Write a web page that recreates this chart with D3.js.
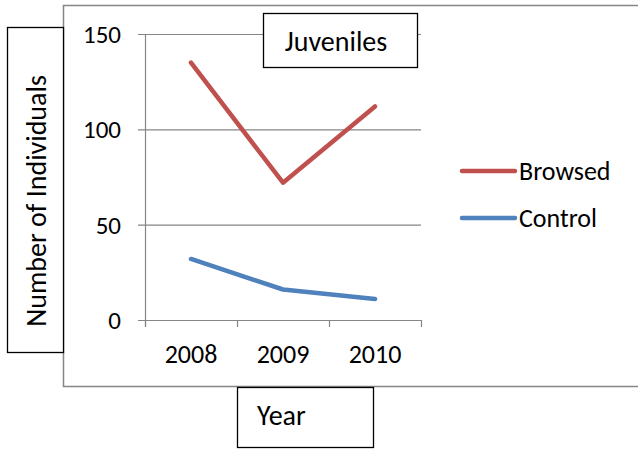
<!DOCTYPE html>
<html>
<head>
<meta charset="utf-8">
<script src="https://cdn.jsdelivr.net/npm/d3@7"></script>
<style>
  body { margin: 0; background: #fff; }
  svg { display: block; }
</style>
</head>
<body>
<script>
const WIDTH = 638;
const HEIGHT = 450;
const FONT = 'Carlito, Lato, "Open Sans", sans-serif';
const GRID = '#868686';

const years = ['2008', '2009', '2010'];
const browsed = [135, 72, 112];
const control = [32, 16, 11];
const yTicks = [0, 50, 100, 150];
const seriesNames = ['Browsed', 'Control'];
const seriesColors = ['#C0504D', '#4F81BD'];

const svg = d3.select('body').append('svg')
  .attr('width', WIDTH)
  .attr('height', HEIGHT);

// chart frame (top/left/bottom visible, right runs off the page)
svg.append('rect')
  .attr('x', 63.5).attr('y', 5.5)
  .attr('width', 640).attr('height', 381)
  .attr('fill', '#fff')
  .attr('stroke', GRID)
  .attr('stroke-width', 1.5);

const plot = { left: 145, right: 421, top: 34, bottom: 320 };

const x = d3.scaleBand()
  .domain(years)
  .range([plot.left, plot.right]);

const y = d3.scaleLinear()
  .domain([0, 150])
  .range([plot.bottom, plot.top]);

// gridlines
svg.append('g')
  .selectAll('line')
  .data(yTicks)
  .join('line')
  .attr('x1', plot.left - 7).attr('x2', plot.right)
  .attr('y1', d => y(d) + 0.5).attr('y2', d => y(d) + 0.5)
  .attr('stroke', GRID)
  .attr('stroke-width', 1.2);

// y axis line
svg.append('line')
  .attr('x1', plot.left + 0.5).attr('x2', plot.left + 0.5)
  .attr('y1', plot.top).attr('y2', plot.bottom + 7)
  .attr('stroke', GRID)
  .attr('stroke-width', 1.2);

// x ticks at band boundaries
const boundaries = years.map(d => x(d)).concat([x(years[years.length - 1]) + x.bandwidth()]);
svg.append('g')
  .selectAll('line')
  .data(boundaries)
  .join('line')
  .attr('x1', d => d + 0.5).attr('x2', d => d + 0.5)
  .attr('y1', plot.bottom).attr('y2', plot.bottom + 7)
  .attr('stroke', GRID)
  .attr('stroke-width', 1.2);

// y tick labels
svg.append('g')
  .selectAll('text')
  .data(yTicks)
  .join('text')
  .attr('x', 121)
  .attr('y', d => y(d) + 9)
  .attr('text-anchor', 'end')
  .attr('font-family', FONT)
  .attr('font-size', 25)
  .attr('fill', '#000')
  .text(d => d);

// x tick labels
svg.append('g')
  .selectAll('text')
  .data(years)
  .join('text')
  .attr('x', d => x(d) + x.bandwidth() / 2)
  .attr('y', 363)
  .attr('text-anchor', 'middle')
  .attr('font-family', FONT)
  .attr('font-size', 26)
  .attr('fill', '#000')
  .text(d => d);

// lines
const line = d3.line()
  .x((d, i) => x(years[i]) + x.bandwidth() / 2)
  .y(d => y(d));

[browsed, control].forEach((vals, i) => {
  svg.append('path')
    .datum(vals)
    .attr('d', line)
    .attr('fill', 'none')
    .attr('stroke', seriesColors[i])
    .attr('stroke-width', 4.5)
    .attr('stroke-linecap', 'round')
    .attr('stroke-linejoin', 'round');
});

// legend
const legend = svg.append('g')
  .selectAll('g')
  .data(seriesNames)
  .join('g')
  .attr('transform', (d, i) => `translate(462,${171 + i * 47})`);
legend.append('line')
  .attr('x1', 0).attr('x2', 53)
  .attr('stroke', (d, i) => seriesColors[i])
  .attr('stroke-width', 4.5)
  .attr('stroke-linecap', 'round');
legend.append('text')
  .attr('x', 57).attr('y', 9)
  .attr('font-family', FONT)
  .attr('font-size', 26)
  .attr('fill', '#000')
  .text(d => d);

// boxed labels
function box(x0, y0, w, h) {
  svg.append('rect')
    .attr('x', x0 + 0.5).attr('y', y0 + 0.5)
    .attr('width', w).attr('height', h)
    .attr('fill', '#fff')
    .attr('stroke', '#000')
    .attr('stroke-width', 1.3);
}

box(263, 13, 154, 54);
svg.append('text')
  .attr('x', 336).attr('y', 51)
  .attr('text-anchor', 'middle')
  .attr('font-family', FONT)
  .attr('font-size', 28)
  .text('Juveniles');

box(7, 27, 56, 325);
svg.append('text')
  .attr('transform', 'translate(46,201) rotate(-90)')
  .attr('text-anchor', 'middle')
  .attr('font-family', FONT)
  .attr('font-size', 28)
  .text('Number of Individuals');

box(237, 387, 136, 60);
svg.append('text')
  .attr('x', 257).attr('y', 425)
  .attr('font-family', FONT)
  .attr('font-size', 28)
  .text('Year');
</script>
</body>
</html>
